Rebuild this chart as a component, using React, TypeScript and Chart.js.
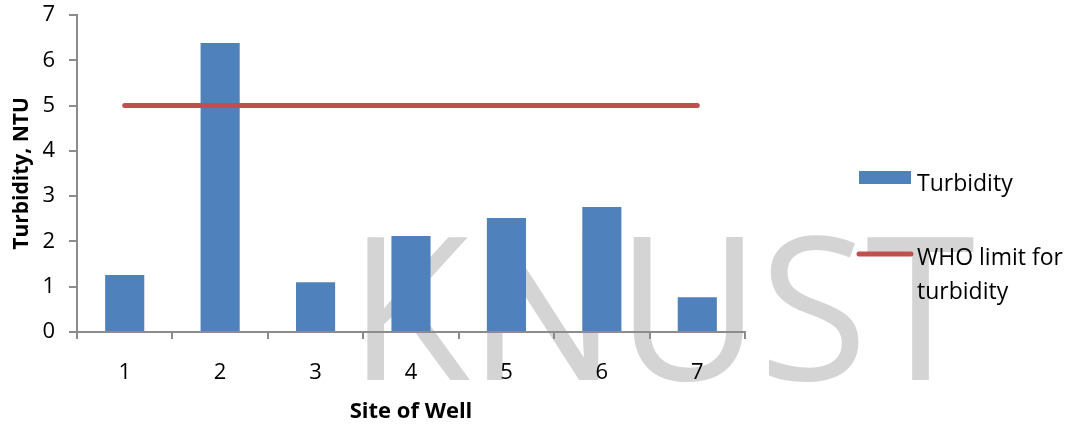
import React, { useEffect, useRef } from 'react';
import { Chart, registerables } from 'chart.js';

Chart.register(...registerables);

const categories = ['1', '2', '3', '4', '5', '6', '7'];
const turbidity = [1.26, 6.38, 1.1, 2.12, 2.52, 2.76, 0.77];
const whoLimit = [5, 5, 5, 5, 5, 5, 5];
const yMin = 0;
const yMax = 7;
const yStep = 1;
const xTitle = 'Site of Well';
const yTitle = 'Turbidity, NTU';
const watermarkText = 'KNUST';

const FONT = '"Open Sans", "Liberation Sans", sans-serif';
const AXIS = '#8c8c8c';
const BLUE = '#4F81BD';
const RED = '#C0504D';

function wrap(ctx: CanvasRenderingContext2D, text: string, maxW: number): string[] {
  const words = text.split(' ');
  const lines: string[] = [];
  let cur = '';
  for (const w of words) {
    const t = cur ? cur + ' ' + w : w;
    if (ctx.measureText(t).width > maxW && cur) {
      lines.push(cur);
      cur = w;
    } else cur = t;
  }
  if (cur) lines.push(cur);
  return lines;
}

export default function App() {
  const ref = useRef<HTMLCanvasElement>(null);

  useEffect(() => {
    document.body.style.margin = '0';
    const watermark = {
      id: 'watermark',
      beforeDraw(chart: any) {
        const ctx = chart.ctx as CanvasRenderingContext2D;
        ctx.save();
        ctx.font = `400 199px ${FONT}`;
        ctx.fillStyle = '#d4d4d4';
        ctx.textBaseline = 'alphabetic';
        ctx.textAlign = 'left';
        (ctx as any).letterSpacing = '-2px';
        ctx.fillText(watermarkText, 348, 380);
        ctx.restore();
      },
    };
    const customLegend = {
      id: 'customLegend',
      afterDraw(chart: any) {
        const ctx = chart.ctx as CanvasRenderingContext2D;
        const ds = chart.data.datasets;
        ctx.save();
        ctx.font = `23px ${FONT}`;
        ctx.fillStyle = '#000';
        ctx.textBaseline = 'alphabetic';
        ctx.textAlign = 'left';
        ctx.fillStyle = ds[0].backgroundColor;
        ctx.fillRect(859, 171, 52, 13);
        ctx.fillStyle = '#000';
        wrap(ctx, ds[0].label, 150).forEach((l, i) => ctx.fillText(l, 917, 191 + i * 34));
        ctx.strokeStyle = ds[1].borderColor;
        ctx.lineWidth = 5;
        ctx.lineCap = 'round';
        ctx.beginPath();
        ctx.moveTo(859, 254);
        ctx.lineTo(911, 254);
        ctx.stroke();
        wrap(ctx, ds[1].label, 150).forEach((l, i) => ctx.fillText(l, 917, 265 + i * 34));
        ctx.restore();
      },
    };

    const chart = new Chart(ref.current as HTMLCanvasElement, {
      type: 'bar',
      data: {
        labels: categories,
        datasets: [
          {
            type: 'bar',
            label: 'Turbidity',
            data: turbidity,
            backgroundColor: BLUE,
            borderWidth: 0,
            barPercentage: 0.41,
            categoryPercentage: 1,
            order: 2,
          },
          {
            type: 'line',
            label: 'WHO limit for turbidity',
            data: whoLimit,
            borderColor: RED,
            backgroundColor: RED,
            borderWidth: 5,
            borderCapStyle: 'round',
            pointRadius: 0,
            fill: false,
            order: 1,
          },
        ] as any,
      },
      options: {
        animation: false,
        responsive: false,
        layout: { padding: { top: 15, right: 324, left: 0, bottom: 0 } },
        plugins: {
          legend: { display: false },
          tooltip: { enabled: false },
        },
        scales: {
          x: {
            offset: true,
            grid: {
              display: true,
              drawOnChartArea: false,
              drawTicks: true,
              tickLength: 7,
              color: AXIS,
              lineWidth: 2,
              offset: true,
            },
            border: { color: AXIS, width: 2 },
            ticks: { color: '#000', font: { family: FONT, size: 22 }, padding: 21 },
            title: {
              display: true,
              text: xTitle,
              color: '#000',
              font: { family: FONT, size: 22, weight: 'bold' },
              padding: { top: 1, bottom: 0 },
            },
            afterFit: (s: any) => {
              s.height = 93;
              s.paddingLeft = 0;
              s.paddingRight = 0;
            },
          },
          y: {
            min: yMin,
            max: yMax,
            grid: {
              display: true,
              drawOnChartArea: false,
              drawTicks: true,
              tickLength: 8,
              color: AXIS,
              lineWidth: 2,
            },
            border: { color: AXIS, width: 2 },
            ticks: { stepSize: yStep, color: '#000', font: { family: FONT, size: 22 }, padding: 14 },
            title: {
              display: true,
              text: yTitle,
              color: '#000',
              font: { family: FONT, size: 21, weight: 'bold' },
              padding: { top: 9, bottom: 0 },
            },
            afterFit: (s: any) => {
              s.width = 77;
              s.paddingTop = 0;
              s.paddingBottom = 0;
            },
          },
        },
      } as any,
      plugins: [watermark, customLegend],
    });
    return () => chart.destroy();
  }, []);

  return (
    <div style={{ width: 1069, height: 425 }}>
      <canvas ref={ref} width={1069} height={425} />
    </div>
  );
}
